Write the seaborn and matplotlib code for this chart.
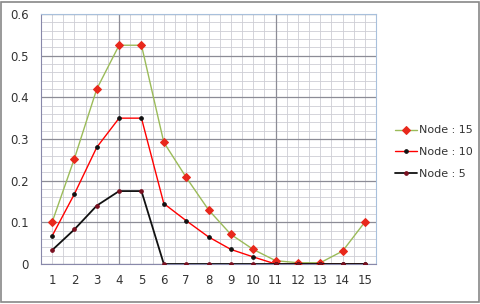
import numpy as np
import pandas as pd
import seaborn as sns
import matplotlib.pyplot as plt
from matplotlib.patches import Rectangle

x_vals = list(range(1, 16))
node15 = [0.100, 0.253, 0.420, 0.525, 0.525, 0.292, 0.208, 0.130, 0.071, 0.035, 0.008, 0.003, 0.003, 0.031, 0.101]
node10 = [0.067, 0.168, 0.280, 0.350, 0.350, 0.145, 0.104, 0.065, 0.035, 0.017, 0.0, 0.0, 0.0, 0.0, 0.0]
node5 = [0.033, 0.083, 0.140, 0.175, 0.175, 0.0, 0.0, 0.0, 0.0, 0.0, 0.0, 0.0, 0.0, 0.0, 0.0]
labels = ["Node : 15", "Node : 10", "Node : 5"]

df = pd.DataFrame({"x": x_vals * 3,
                   "y": node15 + node10 + node5,
                   "series": [labels[0]] * 15 + [labels[1]] * 15 + [labels[2]] * 15})

sns.set_style("white")
plt.rcParams['font.family'] = ['DejaVu Sans']

fig = plt.figure(figsize=(4.81, 3.04), dpi=100)
ax = fig.add_axes([0.085, 0.1316, 0.697, 0.8224])

styles = {
    labels[0]: dict(color="#9bbb59", marker="D", ms=4.2, mfc="#e8281c", mec="#e8281c", lw=1.0),
    labels[1]: dict(color="#ff0000", marker="o", ms=2.6, mfc="#111111", mec="#111111", lw=1.0),
    labels[2]: dict(color="#111111", marker="o", ms=2.6, mfc="#7a1020", mec="#7a1020", lw=1.3),
}
for lab in labels:
    st = styles[lab]
    sns.lineplot(data=df[df.series == lab], x="x", y="y", ax=ax, label=lab,
                 color=st["color"], marker=st["marker"], markersize=st["ms"],
                 markerfacecolor=st["mfc"], markeredgecolor=st["mec"],
                 linewidth=st["lw"], zorder=3)

ax.set_xlim(0.5, 15.5)
ax.set_ylim(0, 0.6)
ax.set_xticks(x_vals)
ax.set_yticks(np.arange(0, 0.61, 0.1))
ax.set_yticklabels(["0", "0.1", "0.2", "0.3", "0.4", "0.5", "0.6"])
ax.set_xticks(np.arange(0.5, 15.6, 0.5), minor=True)
ax.set_yticks(np.arange(0, 0.601, 0.02), minor=True)
ax.grid(which="minor", color="#cdcdd5", lw=0.6)
ax.grid(which="major", axis="y", color="#8c8c96", lw=0.9)
ax.grid(which="major", axis="x", color="#cdcdd5", lw=0.6)
for xv in [4, 11]:
    ax.axvline(xv, color="#8c8c96", lw=0.9, zorder=1)
ax.set_axisbelow(True)
ax.set_xlabel("")
ax.set_ylabel("")
ax.tick_params(axis="both", which="both", length=0, labelsize=8.5, colors="#333333", pad=7)
ax.tick_params(axis="y", pad=9)

for side in ["top", "right"]:
    ax.spines[side].set_color("#a8c0dc")
    ax.spines[side].set_linewidth(0.8)
ax.spines["left"].set_color("#8888aa")
ax.spines["bottom"].set_color("#8888aa")
ax.spines["left"].set_linewidth(0.8)
ax.spines["bottom"].set_linewidth(0.8)

leg = ax.legend(loc="upper left", bbox_to_anchor=(391 / 481, 1 - 121 / 304),
                bbox_transform=fig.transFigure, frameon=False, borderaxespad=0,
                fontsize=8, handlelength=1.9, labelspacing=1.05, handletextpad=0.2)
for t in leg.get_texts():
    t.set_color("#333333")

fig.patches.append(Rectangle((0.003, 0.005), 0.992, 0.99, transform=fig.transFigure,
                             fill=False, edgecolor="#888888", lw=1.2))

fig.savefig("out.png", dpi=100)
